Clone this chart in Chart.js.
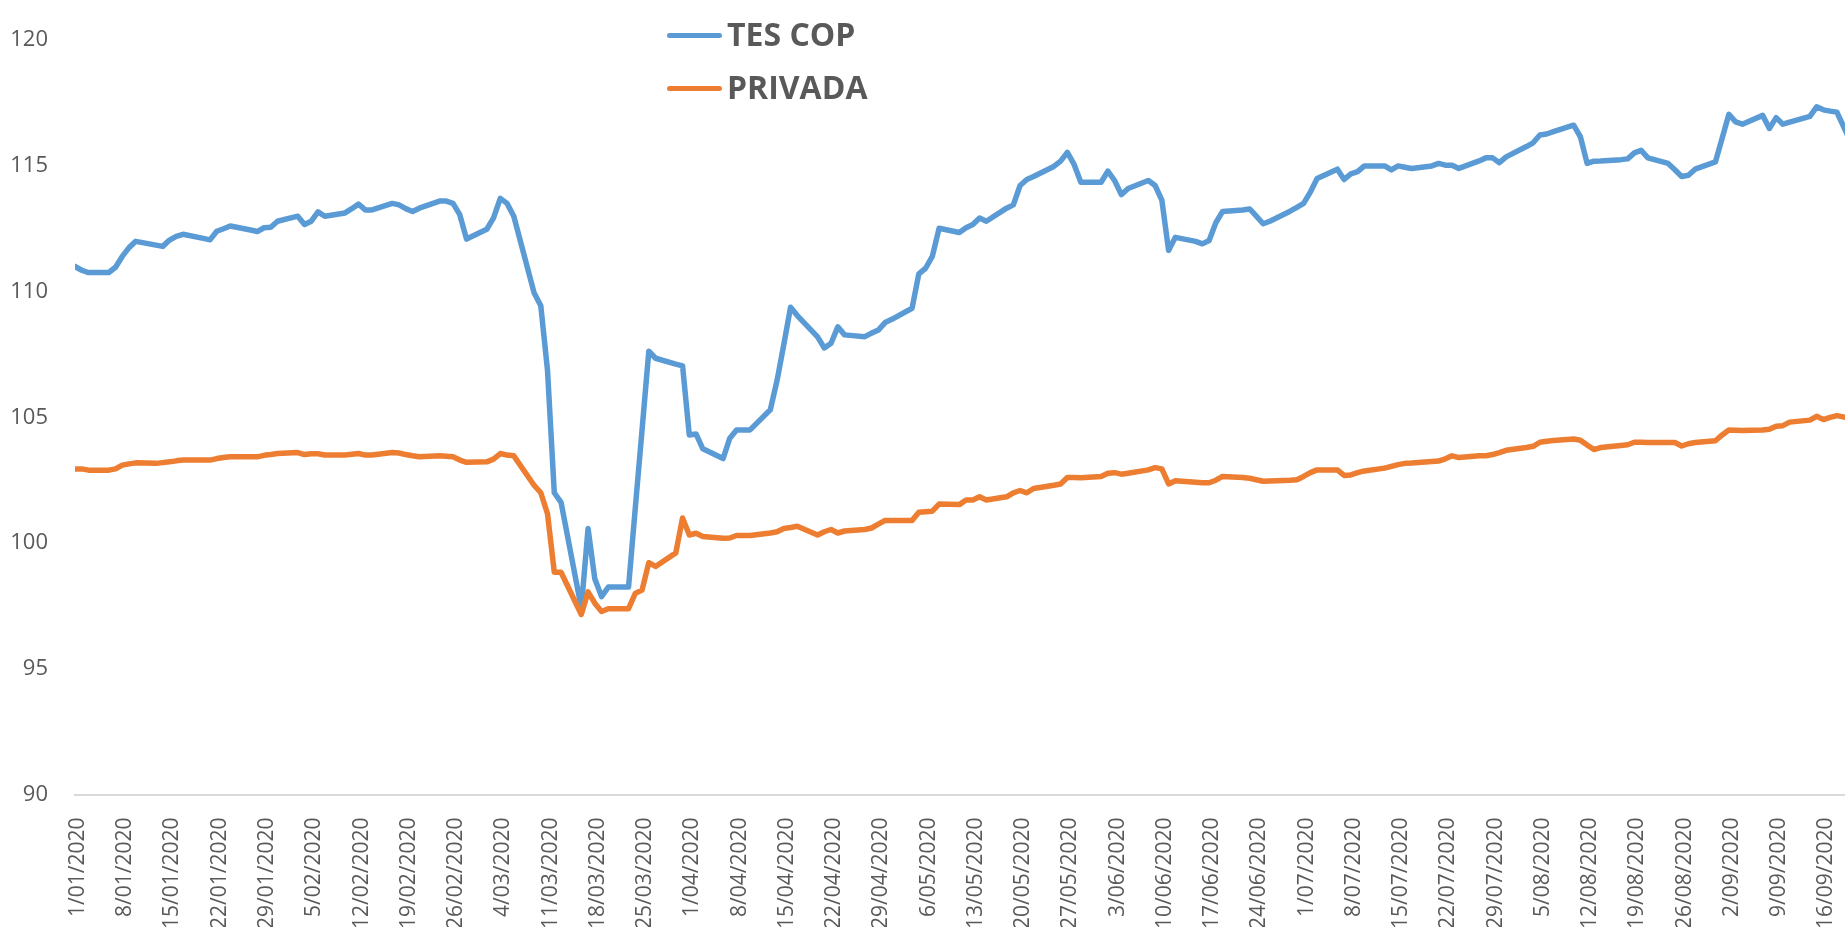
<!DOCTYPE html>
<html lang="es">
<head>
<meta charset="utf-8">
<title>TES COP vs PRIVADA</title>
<script src="https://cdn.jsdelivr.net/npm/chart.js@4.4.1/dist/chart.umd.min.js"></script>
<style>
  html, body { margin: 0; padding: 0; background: #fff; overflow: hidden; }
  #contenedor { position: relative; width: 1845px; height: 927px; }
  #leyenda .linea { position: absolute; left: 667px; width: 55px; height: 5px; border-radius: 3px; }
  #leyenda .texto {
    position: absolute; left: 727px; font-family: "Open Sans", sans-serif; font-weight: bold;
    font-size: 32px; line-height: 44px; color: #595959; white-space: nowrap;
  }
</style>
</head>
<body>
<div id="contenedor">
  <canvas id="grafico" width="1845" height="927"></canvas>
  <div id="leyenda">
    <div class="linea" style="top:33px;background:#5b9bd5"></div>
    <div class="texto" style="top:12px">TES COP</div>
    <div class="linea" style="top:86px;background:#ed7d31"></div>
    <div class="texto" style="top:65px">PRIVADA</div>
  </div>
</div>
<script>
// etiquetas del eje x (una cada 7 dias desde el 1/01/2020)
const tickLabels = [
  "1/01/2020", "8/01/2020", "15/01/2020", "22/01/2020", "29/01/2020",
  "5/02/2020", "12/02/2020", "19/02/2020", "26/02/2020",
  "4/03/2020", "11/03/2020", "18/03/2020", "25/03/2020",
  "1/04/2020", "8/04/2020", "15/04/2020", "22/04/2020", "29/04/2020",
  "6/05/2020", "13/05/2020", "20/05/2020", "27/05/2020",
  "3/06/2020", "10/06/2020", "17/06/2020", "24/06/2020",
  "1/07/2020", "8/07/2020", "15/07/2020", "22/07/2020", "29/07/2020",
  "5/08/2020", "12/08/2020", "19/08/2020", "26/08/2020",
  "2/09/2020", "9/09/2020", "16/09/2020"
];

// valores por dia habil, 1/01/2020 a 21/09/2020 (una fila por semana)
const tesCop = [
  111.0, 110.85, 110.76,
  110.76, 110.97, 111.4, 111.75, 112.0,
  111.85, 111.8, 112.05, 112.2, 112.28,
  112.12, 112.06, 112.4, 112.5, 112.61,
  112.45, 112.39, 112.54, 112.56, 112.8,
  113.0, 112.67, 112.8, 113.17, 113.0,
  113.13, 113.3, 113.48, 113.25, 113.25,
  113.51, 113.45, 113.3, 113.19, 113.32,
  113.6, 113.6, 113.51, 113.06, 112.09,
  112.48, 112.93, 113.71, 113.51, 113.0,
  109.96, 109.44, 106.85, 102.0, 101.62,
  97.42, 100.58, 98.58, 97.87, 98.25,
  98.25, 101.4, 104.5, 107.63, 107.35,
  107.12, 107.05, 104.3, 104.34, 103.75,
  103.36, 104.17, 104.5, 104.5, 104.5,
  105.3, 106.47, 107.9, 109.38, 109.05,
  108.2, 107.76, 107.95, 108.6, 108.28,
  108.21, 108.35, 108.47, 108.77, 108.9,
  109.34, 110.71, 110.93, 111.4, 112.52,
  112.35, 112.54, 112.67, 112.93, 112.8,
  113.32, 113.45, 114.22, 114.46, 114.58,
  114.98, 115.19, 115.54, 115.06, 114.35,
  114.35, 114.79, 114.42, 113.86, 114.1,
  114.42, 114.22, 113.64, 111.64, 112.16,
  112.0, 111.9, 112.03, 112.74, 113.19,
  113.25, 113.29, 113.0, 112.7, 112.8,
  113.2, 113.35, 113.51, 113.96, 114.5,
  114.87, 114.46, 114.68, 114.77, 115.0,
  115.0, 114.84, 115.0, 114.95, 114.9,
  115.0, 115.1, 115.03, 115.03, 114.9,
  115.2, 115.32, 115.32, 115.13, 115.36,
  115.77, 115.92, 116.23, 116.27, 116.36,
  116.62, 116.16, 115.1, 115.19, 115.2,
  115.25, 115.28, 115.52, 115.62, 115.32,
  115.1, 114.85, 114.58, 114.63, 114.87,
  115.16, 116.1, 117.05, 116.75, 116.66,
  117.01, 116.49, 116.92, 116.66, 116.74,
  116.97, 117.35, 117.23, 117.18, 117.14,
  115.4
];

const privada = [
  102.95, 102.95, 102.9,
  102.9, 102.95, 103.1, 103.15, 103.19,
  103.17, 103.2, 103.23, 103.27, 103.3,
  103.3, 103.3, 103.36, 103.4, 103.43,
  103.43, 103.43, 103.49, 103.52, 103.56,
  103.6, 103.52, 103.55, 103.55, 103.5,
  103.5, 103.53, 103.56, 103.5, 103.5,
  103.6, 103.58, 103.52, 103.47, 103.43,
  103.47, 103.45, 103.43, 103.3, 103.21,
  103.23, 103.34, 103.56, 103.5, 103.47,
  102.3, 102.0, 101.16, 98.84, 98.84,
  97.16, 98.06, 97.61, 97.28, 97.39,
  97.39, 98.0, 98.13, 99.22, 99.07,
  99.61, 101.0, 100.32, 100.39, 100.26,
  100.19, 100.2, 100.3, 100.3, 100.3,
  100.4, 100.45, 100.58, 100.62, 100.67,
  100.32, 100.45, 100.54, 100.4, 100.48,
  100.54, 100.6, 100.75, 100.9, 100.9,
  100.9, 101.23, 101.25, 101.27, 101.55,
  101.53, 101.71, 101.71, 101.84, 101.71,
  101.84, 102.0, 102.09, 102.0, 102.17,
  102.3, 102.35, 102.61, 102.61, 102.6,
  102.65, 102.78, 102.8, 102.74, 102.78,
  102.91, 103.0, 102.95, 102.35, 102.48,
  102.42, 102.4, 102.4, 102.5, 102.65,
  102.61, 102.58, 102.52, 102.46, 102.47,
  102.5, 102.52, 102.65, 102.8, 102.91,
  102.91, 102.69, 102.71, 102.8, 102.87,
  102.98, 103.05, 103.12, 103.17, 103.18,
  103.24, 103.26, 103.35, 103.47, 103.4,
  103.47, 103.47, 103.52, 103.6, 103.69,
  103.8, 103.85, 104.01, 104.05, 104.08,
  104.14, 104.09, 103.9, 103.72, 103.8,
  103.88, 103.91, 104.01, 104.01, 104.0,
  104.0, 104.0, 103.86, 103.95, 104.0,
  104.07, 104.3, 104.5, 104.49, 104.48,
  104.5, 104.53, 104.65, 104.67, 104.81,
  104.89, 105.04, 104.91, 105.0, 105.07,
  104.9
];

// dias habiles (lunes a viernes) contados desde el 1/01/2020, que fue miercoles
const diasHabiles = [];
for (let d = 0; d <= 264; d++) {
  const semana = (3 + d) % 7;
  if (semana !== 0 && semana !== 6) diasHabiles.push(d);
}

function serie(valores) {
  return valores.map((v, i) => ({ x: diasHabiles[i], y: v }));
}

const textoEjes = "#595959";

new Chart(document.getElementById("grafico"), {
  type: "line",
  data: {
    datasets: [
      {
        label: "TES COP",
        data: serie(tesCop),
        borderColor: "#5b9bd5",
        order: 1
      },
      {
        label: "PRIVADA",
        data: serie(privada),
        borderColor: "#ed7d31",
        order: 0
      }
    ]
  },
  options: {
    responsive: false,
    animation: false,
    devicePixelRatio: 1,
    layout: { padding: { top: 21, right: 0, bottom: 0, left: 0 } },
    plugins: {
      legend: { display: false },
      tooltip: { enabled: false }
    },
    elements: {
      point: { radius: 0 },
      line: { borderWidth: 5.5, tension: 0, borderCapStyle: "round", borderJoinStyle: "round", fill: false }
    },
    scales: {
      x: {
        type: "linear",
        min: 0,
        max: 262.2,
        afterFit: function (scale) {
          scale.height = 132.5;
          scale.paddingLeft = 0;
          scale.paddingRight = 0;
        },
        grid: { display: false },
        border: { display: true, color: "#d9d9d9", width: 2 },
        ticks: {
          stepSize: 7,
          includeBounds: false,
          autoSkip: false,
          minRotation: 90,
          maxRotation: 90,
          padding: 15,
          labelOffset: 3,
          color: textoEjes,
          font: { family: "Open Sans", size: 21 },
          callback: function (valor) {
            const i = Math.round(valor / 7);
            return tickLabels[i] || "";
          }
        }
      },
      y: {
        min: 90,
        max: 120,
        afterFit: function (scale) { scale.width = 75; },
        grid: { display: false, drawTicks: false },
        border: { display: false },
        ticks: {
          stepSize: 5,
          padding: 27,
          color: textoEjes,
          font: { family: "Open Sans", size: 22 }
        }
      }
    }
  }
});
</script>
</body>
</html>
